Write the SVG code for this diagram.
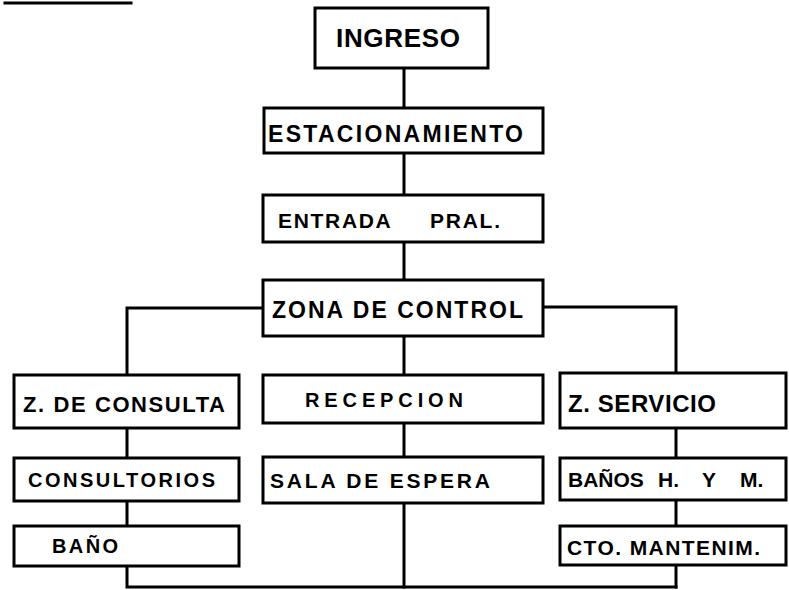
<svg xmlns="http://www.w3.org/2000/svg" width="789" height="590" viewBox="0 0 789 590">
<style>
.box{fill:#fff;stroke:#000;stroke-width:3}
.ln{fill:none;stroke:#000;stroke-width:3;stroke-linecap:square}
text{font-family:"Liberation Sans","Arial",sans-serif;font-weight:bold;fill:#000}
</style>
<rect width="789" height="590" fill="#fff"/>
<line class="ln" x1="5" y1="3" x2="131" y2="3"/>
<g id="connectors">
<path class="ln" d="M404 68V108M404 153V195M404 242V280M404 336V375M404 423V457M404 503V587"/>
<path class="ln" d="M263 308H127V375M127 428V458M127 501V526M127 566V587H676"/>
<path class="ln" d="M543 307H676V373M676 428V458M676 500V526M676 565V587"/>
</g>
<g id="ingreso"><rect class="box" x="315" y="8" width="173" height="60"/><text x="336" y="47" font-size="26" textLength="124" lengthAdjust="spacing">INGRESO</text></g>
<g id="estacionamiento"><rect class="box" x="264" y="108" width="279" height="45"/><text x="268" y="142" font-size="23" textLength="255" lengthAdjust="spacing">ESTACIONAMIENTO</text></g>
<g id="entrada"><rect class="box" x="263" y="195" width="280" height="47"/><text y="228" font-size="21"><tspan x="278" textLength="112" lengthAdjust="spacing">ENTRADA</tspan> <tspan x="430" textLength="70" lengthAdjust="spacing">PRAL.</tspan></text></g>
<g id="zona-control"><rect class="box" x="263" y="280" width="280" height="56"/><text x="272" y="318" font-size="23" textLength="251" lengthAdjust="spacing">ZONA DE CONTROL</text></g>
<g id="z-consulta"><rect class="box" x="14" y="375" width="225" height="53"/><text x="23" y="412" font-size="22" textLength="202" lengthAdjust="spacing">Z. DE CONSULTA</text></g>
<g id="recepcion"><rect class="box" x="263" y="375" width="280" height="48"/><text x="305" y="407" font-size="20" textLength="158" lengthAdjust="spacing">RECEPCION</text></g>
<g id="z-servicio"><rect class="box" x="560" y="373" width="226" height="55"/><text x="568" y="412" font-size="24" textLength="148" lengthAdjust="spacing">Z. SERVICIO</text></g>
<g id="consultorios"><rect class="box" x="14" y="458" width="225" height="43"/><text x="28" y="487" font-size="20" textLength="187" lengthAdjust="spacing">CONSULTORIOS</text></g>
<g id="sala-espera"><rect class="box" x="263" y="457" width="280" height="46"/><text x="270" y="488" font-size="21" textLength="220" lengthAdjust="spacing">SALA DE ESPERA</text></g>
<g id="banos-hym"><rect class="box" x="560" y="458" width="226" height="42"/><text x="568" y="487" font-size="21">BAÑOS <tspan x="658">H. </tspan><tspan x="702">Y </tspan><tspan x="740">M.</tspan></text></g>
<g id="bano"><rect class="box" x="14" y="526" width="225" height="40"/><text x="52" y="553" font-size="20" textLength="66" lengthAdjust="spacing">BAÑO</text></g>
<g id="cto-mantenim"><rect class="box" x="560" y="526" width="226" height="39"/><text x="567" y="555" font-size="21" textLength="193" lengthAdjust="spacing">CTO. MANTENIM.</text></g>
</svg>
